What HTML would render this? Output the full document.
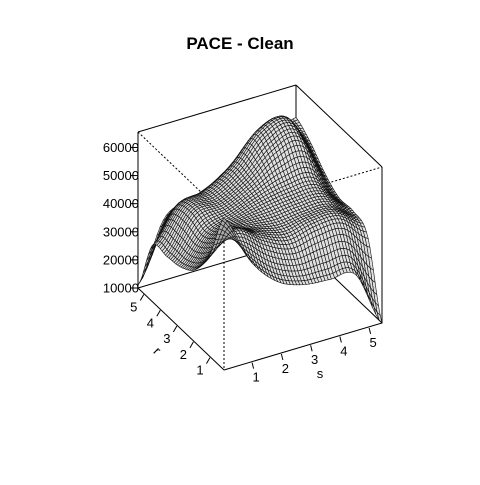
<!DOCTYPE html>
<html><head><meta charset="utf-8"><style>
body{margin:0;background:#fff}
svg text{font-family:"Liberation Sans",sans-serif}
</style></head><body>
<svg id="chart" width="480" height="480" viewBox="0 0 480 480">
<rect width="480" height="480" fill="#fff"/>
<text x="240" y="49" text-anchor="middle" font-size="17" font-weight="bold">PACE - Clean</text>
<g id="back"></g>
<g id="surf"></g>
<g id="front"></g>
<g id="axes"></g>
</svg>
<script>
const sGrid = [0.04, 0.94, 1.84, 2.74, 3.64, 4.54, 5.44];
const rGrid = [0.15, 1.02, 1.88, 2.75, 3.62, 4.48, 5.35];
const zRow0 = [64000, 46000, 36000, 32000, 31000, 30000, 11000];
const zRow1 = [46000, 52000, 46000, 42000, 44000, 42000, 32000];
const zRow2 = [36000, 46000, 46000, 45000, 45000, 44000, 36000];
const zRow3 = [32000, 42000, 45000, 48000, 50000, 50000, 40000];
const zRow4 = [31000, 44000, 46000, 50000, 58000, 60000, 44000];
const zRow5 = [30000, 44000, 46000, 50000, 60000, 62000, 50000];
const zRow6 = [10000, 36000, 40000, 40000, 44000, 50000, 54000];
const zTicks = [10000, 20000, 30000, 40000, 50000, 60000];
const sTicks = [1, 2, 3, 4, 5];
const rTicks = [1, 2, 3, 4, 5];

const zGrid = [zRow0, zRow1, zRow2, zRow3, zRow4, zRow5, zRow6];
const sMin = 0.04, sMax = 5.44, rMin = 0.15, rMax = 5.35, zMin = 10000, zMax = 65500;
const F = [224, 370], R = [382, 323], L = [138, 288], H = 156;
const NS = "http://www.w3.org/2000/svg";
function P(s, r, z) {
  const sf = (s - sMin) / (sMax - sMin), rf = (r - rMin) / (rMax - rMin);
  const zf = (z - zMin) / (zMax - zMin);
  return [F[0] + sf * (R[0] - F[0]) + rf * (L[0] - F[0]),
          F[1] + sf * (R[1] - F[1]) + rf * (L[1] - F[1]) - zf * H];
}
function line(g, a, b, dash, name) {
  const l = document.createElementNS(NS, 'line');
  l.setAttribute('x1', a[0]); l.setAttribute('y1', a[1]);
  l.setAttribute('x2', b[0]); l.setAttribute('y2', b[1]);
  l.setAttribute('stroke', '#000'); l.setAttribute('stroke-width', '1');
  if (dash) l.setAttribute('stroke-dasharray', '2,2');
  
  
  g.appendChild(l);
}
function text(g, x, y, t, anchor, size, name) {
  const e = document.createElementNS(NS, 'text');
  e.setAttribute('x', x); e.setAttribute('y', y);
  e.setAttribute('text-anchor', anchor); e.setAttribute('font-size', size);
  e.textContent = t;
  
  
  g.appendChild(e);
  return e;
}
const back = document.getElementById('back'), front = document.getElementById('front'),
      surf = document.getElementById('surf'), axes = document.getElementById('axes');
const bF = P(sMin, rMin, zMin), bR = P(sMax, rMin, zMin), bL = P(sMin, rMax, zMin), bB = P(sMax, rMax, zMin);
const tF = P(sMin, rMin, zMax), tR = P(sMax, rMin, zMax), tL = P(sMin, rMax, zMax), tB = P(sMax, rMax, zMax);
line(back, bL, bB, false, 'box-edge'); line(back, bB, bR, false, 'box-edge');
line(back, bB, tB, false, 'box-edge');
line(back, tL, tF, true, 'box-edge-hidden'); line(back, tF, tR, true, 'box-edge-hidden');
line(back, tF, bF, true, 'box-edge-hidden');
line(front, tL, tB, false, 'box-edge'); line(front, tB, tR, false, 'box-edge');
line(front, tR, bR, false, 'box-edge'); line(front, tL, bL, false, 'box-edge');
line(front, bL, bF, false, 'box-edge'); line(front, bF, bR, false, 'box-edge');

function cr(p0, p1, p2, p3, t) {
  return 0.5 * ((2 * p1) + (-p0 + p2) * t + (2 * p0 - 5 * p1 + 4 * p2 - p3) * t * t + (-p0 + 3 * p1 - 3 * p2 + p3) * t * t * t);
}
const n = sGrid.length;
function cl(i) { return Math.max(0, Math.min(n - 1, i)); }
function rowAt(i, v) {
  const j = Math.min(n - 2, Math.floor(v)), t = v - j, row = zGrid[cl(i)];
  return cr(row[cl(j - 1)], row[j], row[cl(j + 1)], row[cl(j + 2)], t);
}
function zAt(u, v) {
  const i = Math.min(n - 2, Math.floor(u)), t = u - i;
  return cr(rowAt(i - 1, v), rowAt(i, v), rowAt(i + 1, v), rowAt(i + 2, v), t);
}
function gAt(arr, u) {
  const i = Math.min(n - 2, Math.floor(u)), t = u - i;
  return arr[i] + (arr[i + 1] - arr[i]) * t;
}
const N = 50;
const pts = [];
for (let a = 0; a <= N; a++) {
  pts.push([]);
  for (let b = 0; b <= N; b++) {
    const u = a * (n - 1) / N, v = b * (n - 1) / N;
    pts[a].push(P(gAt(sGrid, u), gAt(rGrid, v), zAt(u, v)));
  }
}
const cells = [];
for (let a = 0; a < N; a++) for (let b = 0; b < N; b++) cells.push([a, b]);
cells.sort((p, q) => (q[0] + q[1]) - (p[0] + p[1]));
for (const [a, b] of cells) {
  const p1 = pts[a][b], p2 = pts[a + 1][b], p3 = pts[a + 1][b + 1], p4 = pts[a][b + 1];
  const cross = (p2[0] - p1[0]) * (p4[1] - p1[1]) - (p2[1] - p1[1]) * (p4[0] - p1[0]);
  const e = document.createElementNS(NS, 'path');
  e.setAttribute('d', `M${p1[0].toFixed(1)},${p1[1].toFixed(1)}L${p2[0].toFixed(1)},${p2[1].toFixed(1)}L${p3[0].toFixed(1)},${p3[1].toFixed(1)}L${p4[0].toFixed(1)},${p4[1].toFixed(1)}Z`);
  e.setAttribute('fill', cross > 0 ? '#a9a9a9' : '#e0e0e0');
  e.setAttribute('stroke', '#111');
  e.setAttribute('stroke-width', '0.6');
  
  
  surf.appendChild(e);
}
// z axis
for (const z of zTicks) {
  const p = P(sMin, rMax, z);
  line(axes, [p[0] - 7, p[1]], p, false, 'z-tick');
  text(axes, p[0] + 1, p[1] + 4.5, String(z), 'end', 13, 'z-tick-label');
}
// s axis
for (const s of sTicks) {
  const p = P(s, rMin, zMin);
  line(axes, [p[0], p[1] + 1], [p[0] + 1.5, p[1] + 7], false, 's-tick');
  text(axes, p[0] + 4, p[1] + 20, String(s), 'middle', 13, 's-tick-label');
}
text(axes, 320, 378, 's', 'middle', 13, 's-axis-title');
// r axis
for (const r of rTicks) {
  const p = P(sMin, r, zMin);
  line(axes, [p[0], p[1] + 1], [p[0] - 3.5, p[1] + 7], false, 'r-tick');
  text(axes, p[0] - 10, p[1] + 18, String(r), 'middle', 13, 'r-tick-label');
}
const rt = text(axes, 157, 355, 'r', 'middle', 13, 'r-axis-title');
rt.setAttribute('transform', 'rotate(45 157 351)');
</script>
</body></html>
